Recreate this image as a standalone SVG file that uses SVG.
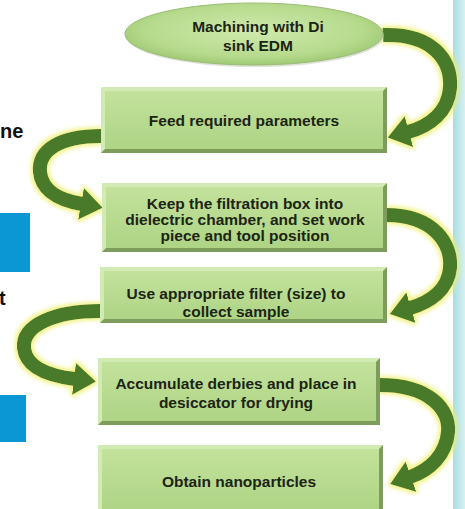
<svg xmlns="http://www.w3.org/2000/svg" width="465" height="509" viewBox="0 0 465 509">
<defs>
<style>
.lbl{font-family:"Liberation Sans",Arial,sans-serif;font-weight:bold;font-size:15.5px;fill:#1c2414;text-anchor:middle}
.side{font-family:"Liberation Sans",Arial,sans-serif;font-weight:bold;font-size:20px;fill:#111}
.edge{fill:#7e9c5c}
.hi{fill:#d2eab4}
.face{fill:url(#boxg)}
.arr{fill:none;stroke:#4a7a2a;stroke-width:14;marker-end:url(#head)}
.blue{fill:#0b97d3}
</style>
<linearGradient id="boxg" x1="0" y1="0" x2="0" y2="1">
<stop offset="0" stop-color="#c3e29c"/>
<stop offset="1" stop-color="#aed484"/>
</linearGradient>
<radialGradient id="ellg" cx="0.5" cy="0.45" r="0.6">
<stop offset="0" stop-color="#d0eaae"/>
<stop offset="0.7" stop-color="#b6da8c"/>
<stop offset="1" stop-color="#96c26a"/>
</radialGradient>
<linearGradient id="bar" x1="0" y1="0" x2="1" y2="0">
<stop offset="0" stop-color="#a9dde2"/>
<stop offset="1" stop-color="#d6f1f2"/>
</linearGradient>
<marker id="head" markerUnits="userSpaceOnUse" viewBox="0 0 22 32" refX="1" refY="16" markerWidth="22" markerHeight="32" orient="auto">
<path d="M0,0 L22,16 L0,32 z" fill="#4a7a2a"/>
</marker>
<filter id="glow" x="-30%" y="-30%" width="160%" height="160%">
<feMorphology in="SourceAlpha" operator="dilate" radius="2" result="d"/>
<feGaussianBlur in="d" stdDeviation="2" result="b"/>
<feFlood flood-color="#eef06e" flood-opacity="0.85"/>
<feComposite in2="b" operator="in" result="g"/>
<feMerge><feMergeNode in="g"/><feMergeNode in="SourceGraphic"/></feMerge>
</filter>
</defs>
<rect width="465" height="509" fill="#ffffff"/>
<rect x="453" y="0" width="12" height="509" fill="url(#bar)"/>
<rect class="blue" x="0" y="213" width="30" height="59"/>
<rect class="blue" x="0" y="395" width="26" height="47"/>
<text class="side" x="0" y="138">ne</text>
<text class="side" x="-1" y="305">t</text>

<g id="connectors" filter="url(#glow)">
<path class="arr" d="M383,35 C432,33 452,60 450,88 C448,112 430,126 408,132"/>
<path class="arr" d="M101,136 C60,136 38,150 40,172 C42,192 60,200 82,204"/>
<path class="arr" d="M386,215 C435,215 452,245 450,268 C448,290 430,302 410,308"/>
<path class="arr" d="M100,311 C55,311 22,325 24,348 C26,368 50,376 75,379"/>
<path class="arr" d="M380,385 C430,385 450,410 448,432 C446,455 430,470 410,477"/>
</g>

<g id="n0">
<ellipse cx="255" cy="36" rx="129" ry="31" fill="#c9cfc0" opacity="0.6"/>
<ellipse cx="254" cy="34" rx="129" ry="31" fill="url(#ellg)" stroke="#9cbd78" stroke-width="1"/>
<text class="lbl" x="258" y="32">Machining with Di</text>
<text class="lbl" x="258" y="51">sink EDM</text>
</g>

<g id="n1">
<rect class="edge" x="101" y="87" width="286" height="66"/>
<polygon class="hi" points="101,87 387,87 383,91 105,91 105,149 101,153"/>
<rect class="face" x="105" y="91" width="278" height="58"/>
<text class="lbl" x="244" y="126">Feed required parameters</text>
</g>

<g id="n2">
<rect class="edge" x="102" y="183" width="285" height="69"/>
<polygon class="hi" points="102,183 387,183 383,187 106,187 106,248 102,252"/>
<rect class="face" x="106" y="187" width="277" height="61"/>
<text class="lbl" x="245" y="209">Keep the filtration box into</text>
<text class="lbl" x="245" y="225">dielectric chamber, and set work</text>
<text class="lbl" x="245" y="241">piece and tool position</text>
</g>

<g id="n3">
<rect class="edge" x="100" y="267" width="287" height="56"/>
<polygon class="hi" points="100,267 387,267 383,271 104,271 104,319 100,323"/>
<rect class="face" x="104" y="271" width="279" height="48"/>
<text class="lbl" x="236" y="299">Use appropriate filter (size) to</text>
<text class="lbl" x="236" y="317">collect sample</text>
</g>

<g id="n4">
<rect class="edge" x="98" y="358" width="282" height="67"/>
<polygon class="hi" points="98,358 380,358 376,362 102,362 102,421 98,425"/>
<rect class="face" x="102" y="362" width="274" height="59"/>
<text class="lbl" x="236" y="389">Accumulate derbies and place in</text>
<text class="lbl" x="236" y="408">desiccator for drying</text>
</g>

<g id="n5">
<rect class="edge" x="98" y="445" width="285" height="70"/>
<polygon class="hi" points="98,445 383,445 379,449 102,449 102,511 98,515"/>
<rect class="face" x="102" y="449" width="277" height="62"/>
<text class="lbl" x="239" y="487">Obtain nanoparticles</text>
</g>
</svg>
